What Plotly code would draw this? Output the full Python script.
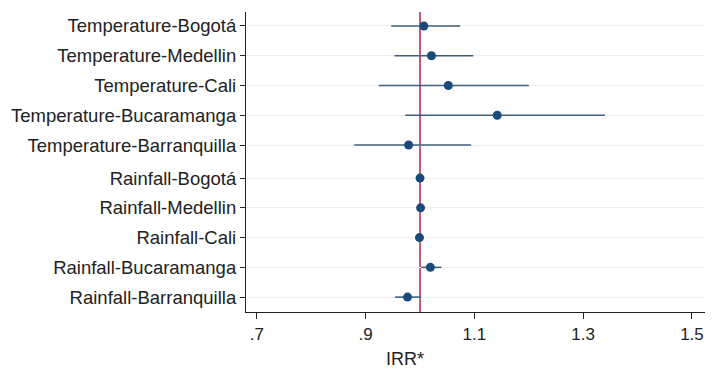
import plotly.graph_objects as go

labels = ["Temperature-Bogotá", "Temperature-Medellin", "Temperature-Cali",
          "Temperature-Bucaramanga", "Temperature-Barranquilla",
          "Rainfall-Bogotá", "Rainfall-Medellin", "Rainfall-Cali",
          "Rainfall-Bucaramanga", "Rainfall-Barranquilla"]
irr = [1.007, 1.021, 1.052, 1.142, 0.979, 1.000, 1.001, 0.999, 1.019, 0.977]
ci_low = [0.947, 0.953, 0.924, 0.973, 0.879, 0.997, 0.998, 0.996, 1.002, 0.954]
ci_high = [1.074, 1.098, 1.200, 1.340, 1.094, 1.003, 1.004, 1.002, 1.039, 1.002]
row_pos = [0, 1, 2, 3, 4, 5.11, 6.11, 7.11, 8.11, 9.11]
xtick_vals = [0.7, 0.9, 1.1, 1.3, 1.5]
xtick_text = [".7", ".9", "1.1", "1.3", "1.5"]
ref_value = 1.0

fig = go.Figure()

# CI lines
ci_x, ci_y = [], []
for lo, hi, y in zip(ci_low, ci_high, row_pos):
    ci_x += [lo, hi, None]
    ci_y += [y, y, None]
fig.add_trace(go.Scatter(x=ci_x, y=ci_y, mode="lines",
                         line=dict(color="#3f5f7c", width=1.6),
                         hoverinfo="skip", showlegend=False))
fig.add_trace(go.Scatter(x=irr, y=row_pos, mode="markers",
                         marker=dict(color="#1a4a78", size=9),
                         showlegend=False))

fig.add_shape(type="line", xref="x", yref="paper", x0=ref_value, x1=ref_value,
              y0=0, y1=1, line=dict(color="#b3344f", width=1.6), layer="below")

fig.update_layout(
    width=713, height=371,
    margin=dict(l=246, r=8, t=12, b=59),
    plot_bgcolor="white", paper_bgcolor="white",
    font=dict(family="Liberation Sans, Arial, sans-serif", size=17, color="#222222"),
    xaxis=dict(range=[0.68, 1.524], tickvals=xtick_vals, ticktext=xtick_text,
               showgrid=False, zeroline=False, showline=True, linecolor="#222222",
               linewidth=1.2, ticks="outside", ticklen=6, tickcolor="#222222",
               tickfont=dict(size=17)),
    yaxis=dict(range=[9.61, -0.47], tickvals=row_pos, ticktext=labels,
               showgrid=True, gridcolor="#eeeeee", gridwidth=1, zeroline=False,
               showline=True, linecolor="#222222", linewidth=1.2,
               ticks="outside", ticklen=5, tickcolor="#222222",
               tickfont=dict(size=18.5)),
    annotations=[dict(text="IRR*", xref="paper", yref="paper", x=0.346, y=0,
                      yshift=-47, showarrow=False, font=dict(size=18),
                      xanchor="center", yanchor="middle")],
)

fig.write_html("out.html")
